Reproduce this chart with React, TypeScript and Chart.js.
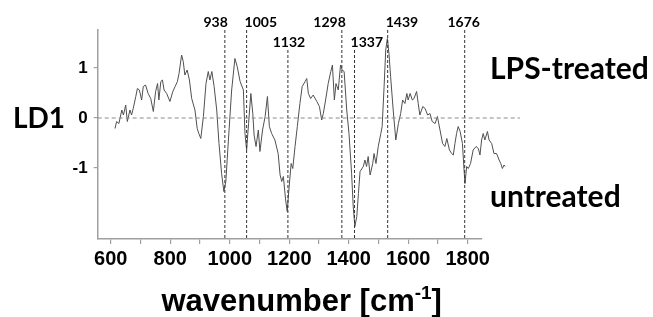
import React, { useEffect, useRef } from "react";
import { Chart, registerables } from "chart.js";

Chart.register(...registerables);

// ---- data ----
const wavenumbers = [
  600, 605, 612, 621, 626, 633, 638, 646, 651, 656, 664, 669, 675, 682, 687, 694, 702, 710, 718, 725,
  731, 735, 741, 746, 751, 759, 769, 778, 785, 792, 797, 805, 810, 815, 822, 829, 836, 846, 853, 858,
  864, 872, 880, 887, 892, 898, 905, 913, 920, 928, 935, 941, 949, 959, 969, 976, 985, 995, 1000, 1005,
  1011, 1018, 1024, 1028, 1034, 1041, 1046, 1054, 1062, 1069, 1075, 1082, 1092, 1102, 1108, 1113, 1118, 1125, 1130, 1135,
  1142, 1147, 1154, 1161, 1169, 1176, 1185, 1190, 1195, 1202, 1210, 1221, 1229, 1236, 1241, 1248, 1256, 1264, 1269, 1275,
  1280, 1287, 1294, 1299, 1305, 1313, 1320, 1328, 1333, 1338, 1344, 1349, 1354, 1364, 1369, 1374, 1379, 1385, 1393, 1397,
  1403, 1410, 1418, 1422, 1428, 1433, 1438, 1443, 1448, 1456, 1464, 1472, 1479, 1485, 1492, 1498, 1502, 1508, 1515, 1520,
  1528, 1533, 1538, 1547, 1554, 1562, 1569, 1576, 1585, 1592, 1600, 1608, 1615, 1621, 1629, 1636, 1641, 1646, 1651, 1656,
  1662, 1669, 1674, 1677, 1682, 1687, 1694, 1702, 1711, 1718, 1723, 1728, 1733, 1738, 1746, 1751, 1759, 1766, 1774, 1782,
  1787, 1792, 1797, 1800,
];
const ld1Values = [
  -0.21, -0.07, -0.11, 0.16, 0.06, 0.26, -0.07, 0.16, 0.06, 0.19, 0.43, 0.59, 0.56, 0.36, 0.63, 0.66, 0.49, 0.39, 0.13, 0.53,
  0.69, 0.36, 0.73, 0.76, 0.56, 0.49, 0.33, 0.53, 0.63, 0.73, 0.89, 1.26, 1.13, 0.86, 0.96, 0.76, 0.39, 0.16, -0.21, -0.31,
  -0.41, 0.03, 0.69, 0.93, 0.76, 0.93, 0.63, 0.16, -0.51, -1.11, -1.47, -1.27, -0.44, 0.56, 1.19, 1.03, 0.73, 0.56, -0.31, -0.64,
  -0.11, 0.49, 0.09, -0.34, -0.57, -0.24, -0.67, -0.24, 0.03, 0.43, -0.17, -0.31, -0.44, -0.71, -1.14, -1.27, -1.17, -1.64, -1.87, -1.44,
  -0.91, -1.01, -0.57, -0.17, 0.29, 0.63, 0.73, 0.79, 0.49, 0.39, 0.46, 0.33, 0.23, -0.04, 0.09, 0.36, 0.69, 0.93, 1.06, 0.36,
  0.69, 0.56, 1.06, 0.96, 0.93, 0.16, -0.31, -1.11, -1.77, -2.17, -1.97, -1.51, -1.07, -0.97, -0.84, -0.97, -0.77, -1.14, -0.91, -0.71,
  -0.91, -0.57, -0.31, -0.17, 0.63, 1.36, 1.59, 1.29, 0.83, 0.16, -0.44, -0.11, 0.09, 0.36, 0.29, 0.49, 0.36, 0.49, 0.36, 0.39,
  0.53, 0.29, 0.06, 0.23, 0.19, 0.06, 0.09, -0.07, -0.11, 0.03, -0.24, -0.51, -0.57, -0.41, -0.64, -0.71, -0.74, -0.51, -0.31, -0.17,
  -0.27, -0.51, -1.04, -1.31, -0.97, -1.01, -0.91, -0.64, -0.57, -0.61, -0.74, -0.44, -0.31, -0.44, -0.27, -0.44, -0.51, -0.71, -0.71, -0.84,
  -0.91, -1.01, -0.94, -0.97,
];

const peakPositions = [938, 1005, 1132, 1298, 1337, 1439, 1676];
const peakLabels = ["938", "1005", "1132", "1298", "1337", "1439", "1676"];
const peakLineTops = [1.76, 1.76, 1.36, 1.76, 1.36, 1.76, 1.76];

const xTickValues = [600, 700, 800, 900, 1000, 1100, 1200, 1300, 1400, 1500, 1600, 1700, 1800];
const xTickLabels = ["600", "", "800", "", "1000", "", "1200", "", "1400", "", "1600", "", "1800"];
const yTickValues = [-1, 0, 1];
const yTickLabels = ["-1", "0", "1"];

const yAxisTitle = "LD1";
const xAxisTitleMain = "wavenumber [cm";
const xAxisTitleSup = "-1";
const xAxisTitleEnd = "]";
const groupLabelTop = "LPS-treated";
const groupLabelBottom = "untreated";

// ---- layout / style (not data) ----
const Y_MIN = -2.42;
const Y_MAX = 1.76;
const X_AXIS_MIN = 556;
const X_AXIS_MAX = 1847;
const X_DATA_MIN = 546.8;
const X_DATA_MAX = 1728.3;
const ZERO_LINE_END = 1846;
const labelPlacement = [
  { align: "right", dx: 3, row: 0 },
  { align: "left", dx: -2, row: 0 },
  { align: "center", dx: 1, row: 1 },
  { align: "right", dx: 4, row: 0 },
  { align: "left", dx: -4, row: 1 },
  { align: "left", dx: -2, row: 0 },
  { align: "center", dx: -1, row: 0 },
];
const AXIS_GRAY = "#a0a0a0";
const ARIAL = "'Liberation Sans', Arial, sans-serif";
const CALIBRI = "Lato, 'Open Sans', sans-serif";

const textPlugin = {
  id: "textOverlay",
  afterDraw(chart: any) {
    const ctx = chart.ctx as CanvasRenderingContext2D;
    const xs = chart.scales.xd;
    const ys = chart.scales.y;
    const xa = chart.scales.x;
    const area = chart.chartArea;
    ctx.save();
    ctx.fillStyle = "#000";
    ctx.textBaseline = "alphabetic";

    // peak labels
    ctx.font = `bold 14px ${CALIBRI}`;
    peakPositions.forEach((p, i) => {
      const pl = labelPlacement[i];
      const px = xs.getPixelForValue(p);
      ctx.textAlign = pl.align as CanvasTextAlign;
      const y = pl.row === 0 ? area.top - 3 : area.top + 17;
      ctx.fillText(peakLabels[i], px + pl.dx, y);
    });

    // y title
    ctx.font = `bold 28px ${CALIBRI}`;
    ctx.textAlign = "left";
    ctx.fillText(yAxisTitle, 13, ys.getPixelForValue(0) + 10);

    // group labels
    ctx.font = `bold 30px ${CALIBRI}`;
    ctx.fillText(groupLabelTop, 490, ys.getPixelForValue(1) + 11);
    ctx.fillText(groupLabelBottom, 490, ys.getPixelForValue(-1) + 39);

    // x title with superscript
    const mainFont = `bold 31px ${ARIAL}`;
    const supFont = `bold 19px ${ARIAL}`;
    ctx.font = mainFont;
    const w1 = ctx.measureText(xAxisTitleMain).width;
    const w3 = ctx.measureText(xAxisTitleEnd).width;
    ctx.font = supFont;
    const w2 = ctx.measureText(xAxisTitleSup).width;
    const total = w1 + w2 + w3;
    const cx = (xa.left + xa.right) / 2 + 12;
    let x0 = cx - total / 2;
    const base = 311;
    ctx.textAlign = "left";
    ctx.font = mainFont;
    ctx.fillText(xAxisTitleMain, x0, base);
    x0 += w1;
    ctx.font = supFont;
    ctx.fillText(xAxisTitleSup, x0, base - 12);
    x0 += w2;
    ctx.font = mainFont;
    ctx.fillText(xAxisTitleEnd, x0, base);
    ctx.restore();
  },
};

export default function App() {
  const canvasRef = useRef<HTMLCanvasElement | null>(null);

  useEffect(() => {
    if (!canvasRef.current) return;
    const spectrum = wavenumbers.map((w, i) => ({ x: w, y: ld1Values[i] }));
    const peakDatasets = peakPositions.map((p, i) => ({
      label: "peak " + peakLabels[i],
      data: [
        { x: p, y: peakLineTops[i] },
        { x: p, y: Y_MIN },
      ],
      xAxisID: "xd",
      yAxisID: "y",
      borderColor: "#333",
      borderWidth: 1,
      borderDash: [3, 2],
      pointRadius: 0,
      clip: false as any,
    }));
    const chart = new Chart(canvasRef.current, {
      type: "line",
      data: {
        datasets: [
          {
            label: "zero",
            data: [
              { x: X_DATA_MIN, y: 0 },
              { x: ZERO_LINE_END, y: 0 },
            ],
            xAxisID: "xd",
            yAxisID: "y",
            borderColor: "#8a8a8a",
            borderWidth: 1,
            borderDash: [4, 3],
            pointRadius: 0,
            clip: false as any,
          },
          ...peakDatasets,
          {
            label: "LD1",
            data: spectrum,
            xAxisID: "xd",
            yAxisID: "y",
            borderColor: "#505050",
            borderWidth: 1,
            pointRadius: 0,
            tension: 0,
            clip: false as any,
          },
        ],
      },
      options: {
        responsive: false,
        animation: false,
        devicePixelRatio: 1,
        layout: { padding: { left: 0, top: 30, right: 653 - 481.7, bottom: 0 } },
        plugins: { legend: { display: false }, tooltip: { enabled: false }, title: { display: false } },
        scales: {
          x: {
            type: "linear",
            position: "bottom",
            min: X_AXIS_MIN,
            max: X_AXIS_MAX,
            bounds: "data",
            afterBuildTicks: (s: any) => {
              s.ticks = xTickValues.map((v) => ({ value: v }));
            },
            afterFit: (s: any) => {
              s.height = 78;
            },
            ticks: {
              autoSkip: false,
              maxRotation: 0,
              padding: 3,
              color: "#000",
              font: { family: ARIAL, size: 20, weight: "bold" },
              callback: (_v: any, i: number) => xTickLabels[i],
            },
            grid: { drawOnChartArea: false, tickLength: 5, color: AXIS_GRAY, lineWidth: 1.2 },
            border: { display: true, color: AXIS_GRAY, width: 1.5 },
          },
          xd: {
            type: "linear",
            display: false,
            bounds: "data",
            afterDataLimits: (s: any) => {
              s.min = X_DATA_MIN;
              s.max = X_DATA_MAX;
            },
          },
          y: {
            type: "linear",
            min: Y_MIN,
            max: Y_MAX,
            afterBuildTicks: (s: any) => {
              s.ticks = yTickValues.map((v) => ({ value: v }));
            },
            afterFit: (s: any) => {
              s.width = 97.7;
            },
            ticks: {
              padding: 6,
              color: "#000",
              font: { family: ARIAL, size: 17, weight: "bold" },
              callback: (_v: any, i: number) => yTickLabels[i],
            },
            grid: { drawOnChartArea: false, tickLength: 4, color: AXIS_GRAY, lineWidth: 1.2 },
            border: { display: true, color: AXIS_GRAY, width: 1.5 },
          },
        },
      },
      plugins: [textPlugin],
    } as any);
    return () => chart.destroy();
  }, []);

  return (
    <div style={{ position: "fixed", left: 0, top: 0, width: 653, height: 317, background: "#fff" }}>
      <canvas ref={canvasRef} width={653} height={317} style={{ display: "block" }} />
    </div>
  );
}
